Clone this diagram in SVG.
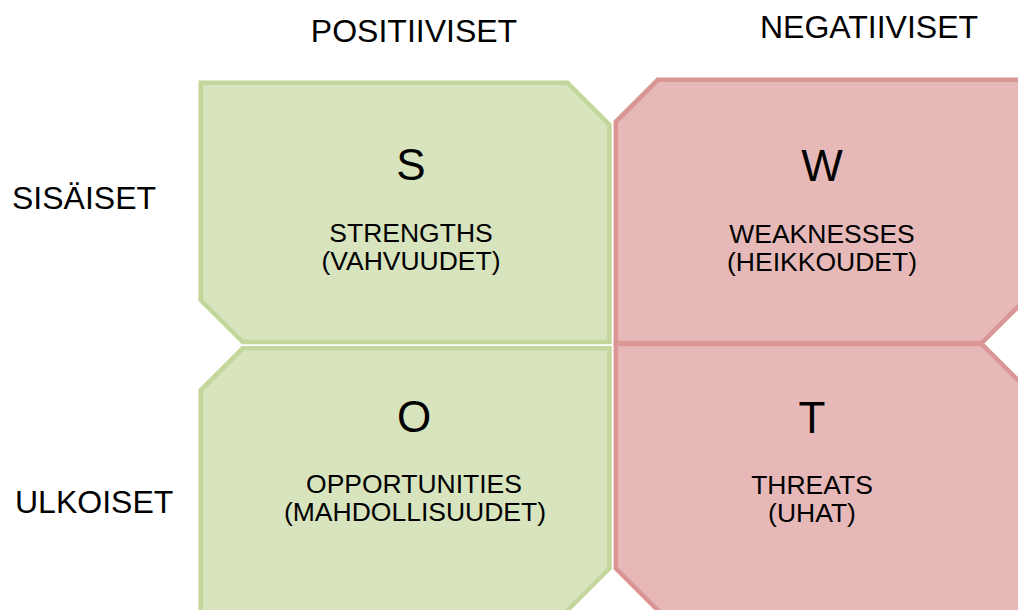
<svg xmlns="http://www.w3.org/2000/svg" width="1018" height="610" viewBox="0 0 1018 610">
  <style>
    .pos { fill: #D7E4BD; stroke: #C3D69B; stroke-width: 4.5; }
    .neg { fill: #E6B9B8; stroke: #D99694; stroke-width: 4.5; }
    text { font-family: "Liberation Sans", Arial, sans-serif; fill: #000; text-anchor: middle; }
    .axis { font-size: 32px; text-anchor: start; }
    .head { font-size: 32px; }
    .letter { font-size: 44px; }
    .desc { font-size: 26.5px; }
  </style>
  <rect width="1018" height="610" fill="#ffffff"/>

  <!-- column headings -->
  <g id="heading-positive"><text class="head" x="414" y="42">POSITIIVISET</text></g>
  <g id="heading-negative"><text class="head" x="869" y="38">NEGATIIVISET</text></g>

  <!-- row headings -->
  <g id="row-internal"><text class="axis" x="12" y="209">SISÄISET</text></g>
  <g id="row-external"><text class="axis" x="15" y="513">ULKOISET</text></g>

  <!-- S: strengths -->
  <g id="node-s">
    <path class="pos" d="M200.7,82.7 H567.5 L609.5,124.7 V342 H242.7 L200.7,300 Z"/>
    <text class="letter" x="411" y="180">S</text>
    <text class="desc" x="411" y="242">STRENGTHS</text>
    <text class="desc" x="411" y="270">(VAHVUUDET)</text>
  </g>

  <!-- O: opportunities -->
  <g id="node-o">
    <path class="pos" d="M242.7,348.3 H609.5 V568.3 L561.5,616.3 H200.7 V390.3 Z"/>
    <text class="letter" x="414" y="432">O</text>
    <text class="desc" x="414" y="493">OPPORTUNITIES</text>
    <text class="desc" x="415" y="521">(MAHDOLLISUUDET)</text>
  </g>

  <!-- W: weaknesses -->
  <g id="node-w">
    <path class="neg" d="M657.8,79.8 H1023.7 V301 L981.7,343 H615.8 V121.8 Z"/>
    <text class="letter" x="822" y="181">W</text>
    <text class="desc" x="822" y="243">WEAKNESSES</text>
    <text class="desc" x="822" y="271">(HEIKKOUDET)</text>
  </g>

  <!-- T: threats -->
  <g id="node-t">
    <path class="neg" d="M615.8,344 H981.7 L1023.7,386 V620 H667.5 L615.8,568.3 Z"/>
    <text class="letter" x="812" y="433">T</text>
    <text class="desc" x="812" y="494">THREATS</text>
    <text class="desc" x="812" y="522">(UHAT)</text>
  </g>

  <!-- no connectors in this chart -->
  <g id="connectors"/>
</svg>
